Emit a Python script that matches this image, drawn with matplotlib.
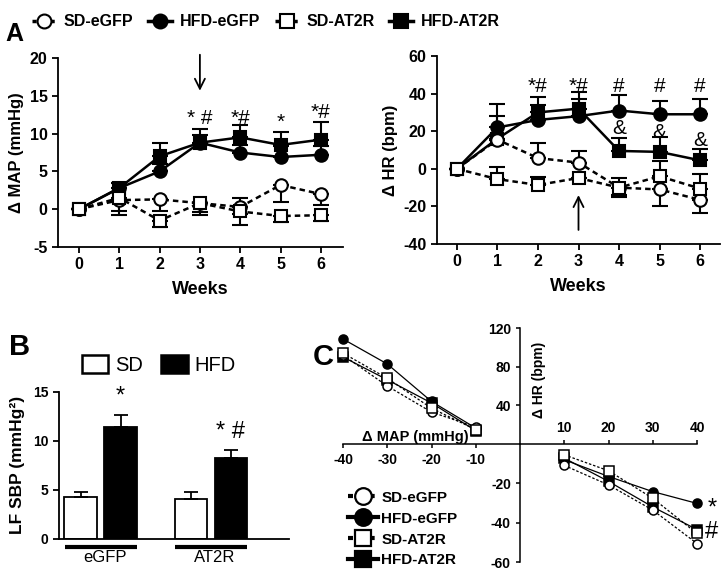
import matplotlib
matplotlib.use('Agg')
import matplotlib.pyplot as plt
from matplotlib.lines import Line2D
from matplotlib.patches import Patch
import numpy as np

plt.rcParams['font.family'] = ['Liberation Sans', 'DejaVu Sans']
plt.rcParams['font.weight'] = 'bold'
plt.rcParams['axes.linewidth'] = 1.3
plt.rcParams['axes.unicode_minus'] = False

groups = ['SD-eGFP', 'HFD-eGFP', 'SD-AT2R', 'HFD-AT2R']
weeks = [0, 1, 2, 3, 4, 5, 6]

# panel A, delta MAP (mmHg): mean, lower error, upper error
map_mean = {
    'SD-eGFP': [0, 1.2, 1.3, 0.8, 0.3, 3.2, 2.0],
    'HFD-eGFP': [0, 2.8, 5.0, 8.8, 7.5, 6.9, 7.2],
    'SD-AT2R': [0, 1.5, -1.5, 0.8, -0.3, -0.9, -0.8],
    'HFD-AT2R': [0, 2.8, 7.0, 8.8, 9.5, 8.5, 9.2],
}
map_lo = {
    'SD-eGFP': [0, 2.0, 1.5, 1.2, 1.0, 2.2, 1.4],
    'HFD-eGFP': [0, 0, 0, 0, 0, 0, 0],
    'SD-AT2R': [0, 1.8, 0.8, 1.6, 1.8, 0.8, 0.8],
    'HFD-AT2R': [0, 0, 0, 0, 0, 0, 0],
}
map_hi = {
    'SD-eGFP': [0, 0, 0, 0, 0, 0, 0],
    'HFD-eGFP': [0, 0.6, 1.0, 1.0, 1.0, 1.5, 1.2],
    'SD-AT2R': [0, 0, 0, 0, 1.8, 0, 0],
    'HFD-AT2R': [0, 0.7, 1.8, 1.8, 1.7, 1.7, 2.3],
}
map_marks = [(3, 12.0, '* #'), (4, 12.0, '*#'), (5, 11.5, '*'), (6, 12.8, '*#')]

# panel A, delta HR (bpm)
hr_mean = {
    'SD-eGFP': [0, 15.5, 5.7, 3.3, -10, -11, -16.5],
    'HFD-eGFP': [0, 22, 26, 28, 31, 29, 29],
    'SD-AT2R': [0, -5.5, -8.6, -4.9, -10, -4, -10.5],
    'HFD-AT2R': [0, 16, 30, 32, 9.5, 9, 4.5],
}
hr_lo = {
    'SD-eGFP': [0, 0, 0, 0, 4, 9, 7],
    'HFD-eGFP': [0, 0, 0, 0, 0, 0, 0],
    'SD-AT2R': [0, 0, 0, 0, 5, 0, 0],
    'HFD-AT2R': [0, 0, 0, 0, 0, 0, 0],
}
hr_hi = {
    'SD-eGFP': [0, 0, 8, 6, 0, 0, 0],
    'HFD-eGFP': [0, 12.5, 8, 9, 8, 7, 8],
    'SD-AT2R': [0, 6.4, 4.2, 0, 5, 8, 7.5],
    'HFD-AT2R': [0, 12, 8, 9, 7, 8, 6],
}
hr_marks = [(2, 43.8, '*#'), (3, 43.8, '*#'), (4, 43.8, '#'), (5, 43.8, '#'), (6, 43.8, '#'),
            (4, 21.7, '&'), (5, 19.5, '&'), (6, 15.0, '&')]

# panel B, LF SBP (mmHg^2)
b_groups = ['eGFP', 'AT2R']
b_sd = [4.3, 4.1]
b_sd_err = [0.45, 0.65]
b_hfd = [11.4, 8.2]
b_hfd_err = [1.25, 0.85]
b_marks = ['*', '* #']

# panel C, baroreflex: delta MAP vs delta HR
c_neg_map = [-40, -30, -20, -10]
c_pos_map = [10, 20, 30, 40]
c_neg_hr = {
    'SD-eGFP': [92, 60, 33, 17.6],
    'HFD-eGFP': [108.6, 82.8, 44, 16.5],
    'SD-AT2R': [94, 68, 37, 14.8],
    'HFD-AT2R': [90, 66.5, 42.4, 13.8],
}
c_pos_hr = {
    'SD-eGFP': [-10.9, -20.8, -33.6, -50.6],
    'HFD-eGFP': [-8, -16.5, -24.2, -30.2],
    'SD-AT2R': [-5.5, -13.6, -27.6, -45.5],
    'HFD-AT2R': [-7.2, -19, -32, -43.5],
}

style = {
    'SD-eGFP': dict(marker='o', mfc='white', ls=(0, (2.2, 1.6))),
    'HFD-eGFP': dict(marker='o', mfc='black', ls='-'),
    'SD-AT2R': dict(marker='s', mfc='white', ls=(0, (2.2, 1.6))),
    'HFD-AT2R': dict(marker='s', mfc='black', ls='-'),
}
order = ['HFD-eGFP', 'HFD-AT2R', 'SD-eGFP', 'SD-AT2R']

W, H = 723, 580
fig = plt.figure(figsize=(W / 100, H / 100), dpi=100)


def rect(l, t, r, b):
    return [l / W, 1 - b / H, (r - l) / W, (b - t) / H]


def style_ax(ax):
    ax.spines['top'].set_visible(False)
    ax.spines['right'].set_visible(False)
    ax.tick_params(direction='out', length=4, width=1.3, labelsize=11.5)


def time_course(ax, mean, lo, hi):
    for g in order:
        s = style[g]
        ax.errorbar(weeks, mean[g], yerr=[lo[g], hi[g]], color='black', ls=s['ls'], lw=1.8,
                    marker=s['marker'], ms=9, mfc=s['mfc'], mec='black', mew=1.5,
                    ecolor='black', elinewidth=1.5, capsize=6, capthick=1.5, clip_on=False)
    ax.set_xticks(weeks)
    ax.set_xlabel('Weeks', fontsize=13, fontweight='bold', labelpad=6)


# panel A left
ax1 = fig.add_axes(rect(58, 58, 343, 247))
style_ax(ax1)
time_course(ax1, map_mean, map_lo, map_hi)
ax1.set_xlim(-0.52, 6.55)
ax1.set_ylim(-5, 20)
ax1.set_yticks([-5, 0, 5, 10, 15, 20])
ax1.set_ylabel('Δ MAP (mmHg)', fontsize=12, fontweight='bold')
for x, y, t in map_marks:
    ax1.text(x, y, t, ha='center', va='center', fontsize=15, fontweight='normal')
ax1.annotate('', xy=(3, 15.3), xytext=(3, 20.8), annotation_clip=False,
             arrowprops=dict(arrowstyle='->', lw=1.3, mutation_scale=18))

# panel A right
ax2 = fig.add_axes(rect(437, 56, 720, 244))
style_ax(ax2)
time_course(ax2, hr_mean, hr_lo, hr_hi)
ax2.set_xlim(-0.49, 6.49)
ax2.set_ylim(-40, 60)
ax2.set_yticks([-40, -20, 0, 20, 40, 60])
ax2.set_ylabel('Δ HR (bpm)', fontsize=12, fontweight='bold')
for x, y, t in hr_marks:
    ax2.text(x, y, t, ha='center', va='center', fontsize=15, fontweight='normal')
ax2.annotate('', xy=(3, -12.5), xytext=(3, -34), annotation_clip=False,
             arrowprops=dict(arrowstyle='->', lw=1.3, mutation_scale=18))

# top legend
handles = []
for g in groups:
    s = style[g]
    handles.append(Line2D([], [], color='black', ls=s['ls'] if g.startswith('HFD') else (0, (1.2, 1.4)),
                          lw=2.5, marker=s['marker'], ms=10, mfc=s['mfc'], mec='black', mew=1.5))
fig.legend(handles, groups, loc='upper center', bbox_to_anchor=(266 / W, 1.0), ncol=4, frameon=False,
           prop=dict(size=11.5, weight='bold'), handlelength=1.5, columnspacing=0.9, handletextpad=0.5)

# panel B
axb = fig.add_axes(rect(59, 391.7, 289, 539))
style_ax(axb)
centers = np.array([0, 2.76])
axb.bar(centers - 0.5, b_sd, width=0.82, color='white', edgecolor='black', lw=1.3,
        yerr=[[0, 0], b_sd_err], capsize=5, error_kw=dict(lw=1.3, capthick=1.3))
axb.bar(centers + 0.5, b_hfd, width=0.82, color='black', edgecolor='black', lw=1.3,
        yerr=[[0, 0], b_hfd_err], capsize=5, error_kw=dict(lw=1.3, capthick=1.3))
for c, v, e, t in zip(centers, b_hfd, b_hfd_err, b_marks):
    axb.text(c + 0.5, v + e + 0.7, t, ha='center', va='bottom', fontsize=17, fontweight='normal')
axb.set_xlim(-1.04, 4.71)
axb.set_ylim(0, 15)
axb.set_yticks([0, 5, 10, 15])
axb.tick_params(axis='y', labelsize=10)
axb.set_xticks([])
axb.set_ylabel('LF SBP (mmHg²)', fontsize=12.5, fontweight='bold', labelpad=6)
for c, g in zip(centers, b_groups):
    axb.plot([c - 0.9, c + 0.9], [-0.8, -0.8], color='black', lw=3, clip_on=False,
             solid_capstyle='butt')
    axb.text(c + 0.1, -1.9, g, ha='center', va='center', fontsize=12, fontweight='normal')
fig.legend([Patch(facecolor='white', edgecolor='black', lw=1.8),
            Patch(facecolor='black', edgecolor='black', lw=1.8)], ['SD', 'HFD'],
           loc='center left', bbox_to_anchor=(64 / W, 1 - 365 / H), ncol=2, frameon=False,
           prop=dict(size=14.5, weight='normal'), handlelength=1.3, handleheight=1.0,
           handletextpad=0.35, columnspacing=0.9)

# panel C, two quadrants with their own HR scales
axq2 = fig.add_axes(rect(343, 328, 697, 444))
axq4 = fig.add_axes(rect(343, 444, 697, 562))
for ax in (axq2, axq4):
    ax.set_xlim(-40, 40)
    ax.patch.set_visible(False)
    ax.spines['right'].set_visible(False)
    ax.spines['left'].set_position(('data', 0))
    ax.tick_params(direction='out', length=3, width=1.1, labelsize=10)
    for sp in ax.spines.values():
        sp.set_linewidth(1.1)
    for g in order:
        s = style[g]
        x = c_neg_map if ax is axq2 else c_pos_map
        y = c_neg_hr[g] if ax is axq2 else c_pos_hr[g]
        ax.plot(x, y, color='black', lw=0.9, ls='-' if g.startswith('HFD') else (0, (2, 1.5)),
                marker=s['marker'], ms=6.5, mfc=s['mfc'], mec='black', mew=1.1, clip_on=False)

axq2.set_ylim(0, 120)
axq2.spines['top'].set_visible(False)
axq2.spines['bottom'].set_bounds(-40, 0)
axq2.spines['left'].set_bounds(0, 120)
axq2.set_xticks(c_neg_map)
axq2.set_yticks([40, 80, 120])
axq2.text(-23.7, 7.5, 'Δ MAP (mmHg)', ha='center', va='center', fontsize=10.5, fontweight='bold')
axq2.text(4.3, 66, 'Δ HR (bpm)', ha='center', va='center', rotation=90, fontsize=10, fontweight='bold')

axq4.set_ylim(-60, 0)
axq4.spines['bottom'].set_visible(False)
axq4.spines['top'].set_bounds(0, 40)
axq4.spines['left'].set_bounds(-60, 0)
axq4.xaxis.tick_top()
axq4.set_xticks(c_pos_map)
axq4.set_yticks([-60, -40, -20])
axq4.text(42.3, -33, '*', ha='left', va='center', fontsize=17, fontweight='normal')
axq4.text(41.8, -44.7, '#', ha='left', va='center', fontsize=17, fontweight='normal')

chandles = []
for g in groups:
    s = style[g]
    chandles.append(Line2D([], [], color='black', ls='-' if g.startswith('HFD') else (0, (1.2, 1.4)),
                           lw=3, marker=s['marker'], ms=12, mfc=s['mfc'], mec='black', mew=1.6))
fig.legend(chandles, groups, loc='upper left', bbox_to_anchor=(334 / W, 1 - 477 / H), ncol=1,
           frameon=False, prop=dict(size=11, weight='bold'), handlelength=2.0, handletextpad=0.2,
           labelspacing=0.45)

# panel letters
fig.text(5 / W, 1 - 46 / H, 'A', fontsize=18, fontweight='bold', va='bottom')
fig.text(9 / W, 1 - 361 / H, 'B', fontsize=21, fontweight='bold', va='bottom')
fig.text(313 / W, 1 - 371 / H, 'C', fontsize=21, fontweight='bold', va='bottom')

fig.savefig('out.png', dpi=100)
